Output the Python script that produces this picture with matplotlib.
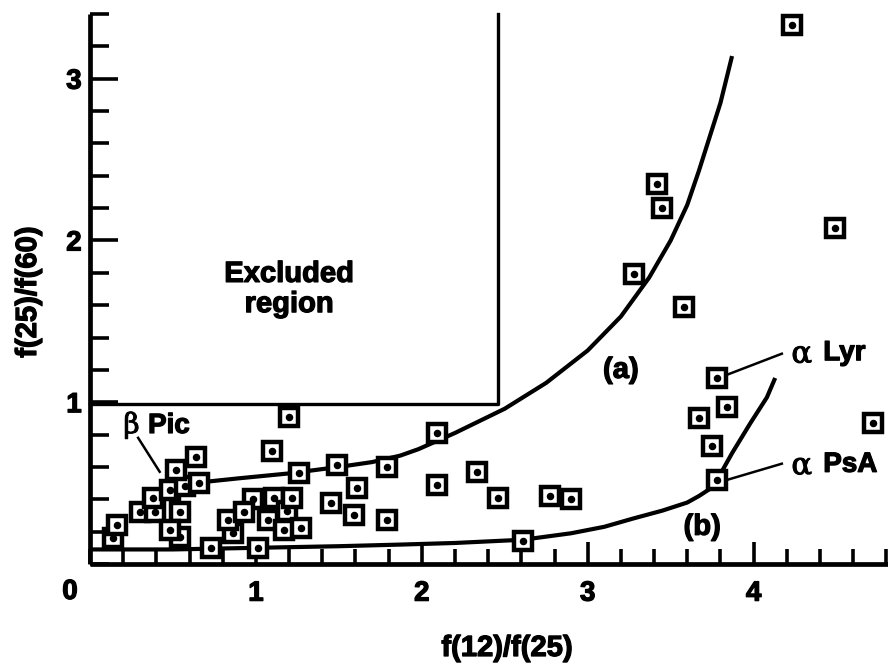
import matplotlib
matplotlib.use("Agg")
import matplotlib.pyplot as plt
import matplotlib.patheffects as pe
from matplotlib.ticker import MultipleLocator, FixedLocator

# ---------------- data ----------------
pts_x = [4.23, 3.42, 3.45, 3.28, 3.58, 4.49, 4.72, 3.78, 3.84, 3.67, 3.75, 3.78,
         2.09, 2.09, 2.33, 2.46, 2.77, 2.90, 2.61,
         0.14, 0.16, 0.30, 0.39, 0.38, 0.54, 0.54, 0.48, 0.48, 0.57, 0.52, 0.64, 0.66,
         0.73, 0.86, 0.83, 0.98, 1.01, 0.93, 1.07, 1.11, 1.17, 1.19, 1.22, 1.27,
         1.10, 1.20, 1.26, 1.49, 1.79, 1.61, 1.45, 1.59, 1.79]
pts_y = [3.33, 2.35, 2.20, 1.79, 1.59, 2.08, 0.87, 1.15, 0.97, 0.90, 0.73, 0.52,
         0.81, 0.49, 0.57, 0.41, 0.42, 0.40, 0.14,
         0.16, 0.24, 0.32, 0.32, 0.41, 0.17, 0.32, 0.21, 0.46, 0.48, 0.58, 0.66, 0.50,
         0.10, 0.19, 0.27, 0.40, 0.10, 0.32, 0.27, 0.41, 0.21, 0.33, 0.41, 0.22,
         0.70, 0.91, 0.56, 0.61, 0.60, 0.47, 0.38, 0.30, 0.27]

curve_a_x = [0.62, 0.9, 1.2, 1.5, 1.7, 1.87, 1.98, 2.09, 2.2, 2.3, 2.5, 2.75, 3.0, 3.2,
             3.37, 3.5, 3.6, 3.67, 3.8, 3.87]
curve_a_y = [0.50, 0.53, 0.56, 0.60, 0.63, 0.67, 0.71, 0.76, 0.81, 0.86, 0.96, 1.12, 1.32,
             1.53, 1.77, 2.00, 2.22, 2.43, 2.85, 3.14]

curve_b_x = [0.0, 0.5, 1.0, 1.5, 1.87, 2.2, 2.61, 2.9, 3.1, 3.27, 3.45, 3.6, 3.67, 3.73,
             3.78, 3.87, 3.98, 4.08, 4.13]
curve_b_y = [0.09, 0.09, 0.10, 0.11, 0.12, 0.13, 0.15, 0.19, 0.23, 0.28, 0.33, 0.38, 0.42,
             0.46, 0.52, 0.685, 0.87, 1.03, 1.15]

excluded_x = [0.0, 2.46, 2.46]
excluded_y = [0.99, 0.99, 3.40]

x_major = [1, 2, 3, 4]
x_labels = ["1", "2", "3", "4"]
y_major = [1, 2, 3]
y_labels = ["1", "2", "3"]

XMAX, YMAX = 4.81, 3.40

# ---------------- figure ----------------
FONT = ["Liberation Sans", "DejaVu Sans"]
plt.rcParams["font.family"] = FONT
plt.rcParams["font.weight"] = "bold"
HEAVY = [pe.withStroke(linewidth=0.9, foreground="black")]
GREEKFX = [pe.withStroke(linewidth=0.7, foreground="black")]

W, H = 888, 669
fig = plt.figure(figsize=(W / 100, H / 100), dpi=100)
ax = fig.add_axes([90 / W, (H - 564) / H, (W - 90) / W, 550 / H])
ax.set_xlim(0, XMAX)
ax.set_ylim(0, YMAX)

for s in ["top", "right"]:
    ax.spines[s].set_visible(False)
for s in ["left", "bottom"]:
    ax.spines[s].set_linewidth(3.4)
    ax.spines[s].set_capstyle("butt")

ax.xaxis.set_major_locator(FixedLocator(x_major))
ax.set_xticklabels(x_labels)
ax.xaxis.set_minor_locator(MultipleLocator(0.2))
ax.yaxis.set_major_locator(FixedLocator(y_major))
ax.set_yticklabels(y_labels)
ax.yaxis.set_minor_locator(MultipleLocator(0.2))

ax.tick_params(axis="x", which="major", direction="in", length=16, width=2.6, pad=12,
               labelsize=20)
ax.tick_params(axis="x", which="minor", direction="in", length=11, width=2.6)
ax.tick_params(axis="y", which="major", direction="in", length=20, width=2.6, pad=6,
               labelsize=20)
ax.tick_params(axis="y", which="minor", direction="in", length=14, width=2.6)
for lab in ax.get_xticklabels() + ax.get_yticklabels():
    lab.set_fontweight("bold")
    lab.set_path_effects(HEAVY)

# excluded region box
ax.plot(excluded_x, excluded_y, color="black", lw=2.4, zorder=2, clip_on=False)

# curves
ax.plot(curve_a_x, curve_a_y, color="black", lw=3.0, zorder=2, solid_capstyle="butt")
ax.plot(curve_b_x, curve_b_y, color="black", lw=3.0, zorder=2, solid_capstyle="butt")

# points: square with a central dot, each drawn on top of the previous ones
for i, (px, py) in enumerate(zip(pts_x, pts_y)):
    ax.plot([px], [py], marker="s", ms=13.5, mfc="white", mec="black", mew=3.2,
            ls="none", zorder=3 + 2 * i, clip_on=False)
    ax.plot([px], [py], marker="o", ms=4.4, mfc="black", mec="black",
            ls="none", zorder=4 + 2 * i, clip_on=False)

# annotations
ax.text(1.20, 1.70, "Excluded\nregion", ha="center", va="center", fontsize=21,
        fontweight="bold", linespacing=1.1, path_effects=HEAVY)
ax.text(3.20, 1.20, "(a)", ha="center", va="center", fontsize=21, fontweight="bold",
        path_effects=HEAVY)
ax.text(3.69, 0.23, "(b)", ha="center", va="center", fontsize=21, fontweight="bold",
        path_effects=HEAVY)

GREEK = ["DejaVu Serif"]
ax.text(4.29, 1.245, "α", ha="center", va="baseline", fontsize=22,
        family=GREEK, fontweight="normal", path_effects=GREEKFX)
ax.text(4.42, 1.26, "Lyr", ha="left", va="baseline", fontsize=20, fontweight="bold",
        path_effects=HEAVY)
ax.text(4.29, 0.555, "α", ha="center", va="baseline", fontsize=22,
        family=GREEK, fontweight="normal", path_effects=GREEKFX)
ax.text(4.42, 0.57, "PsA", ha="left", va="baseline", fontsize=20, fontweight="bold",
        path_effects=HEAVY)
ax.text(0.25, 0.81, "β", ha="center", va="baseline", fontsize=20,
        family=GREEK, fontweight="normal", path_effects=GREEKFX)
ax.text(0.35, 0.81, "Pic", ha="left", va="baseline", fontsize=20, fontweight="bold",
        path_effects=HEAVY)

ax.plot([3.84, 4.17], [1.17, 1.30], color="black", lw=1.8, zorder=200)
ax.plot([3.84, 4.17], [0.52, 0.62], color="black", lw=1.8, zorder=200)
ax.plot([0.29, 0.42], [0.78, 0.57], color="black", lw=1.8, zorder=200)

# "0" corner label and axis titles
fig.text(70 / W, 1 - 592 / H, "0", ha="center", va="center", fontsize=20,
         fontweight="bold", path_effects=HEAVY)
fig.text(507 / W, 1 - 648 / H, "f(12)/f(25)", ha="center", va="center", fontsize=21,
         fontweight="bold", path_effects=HEAVY)
fig.text(28 / W, 1 - 292 / H, "f(25)/f(60)", ha="center", va="center", fontsize=21,
         fontweight="bold", rotation=90, path_effects=HEAVY)

fig.savefig("out.png", dpi=100, facecolor="white")
